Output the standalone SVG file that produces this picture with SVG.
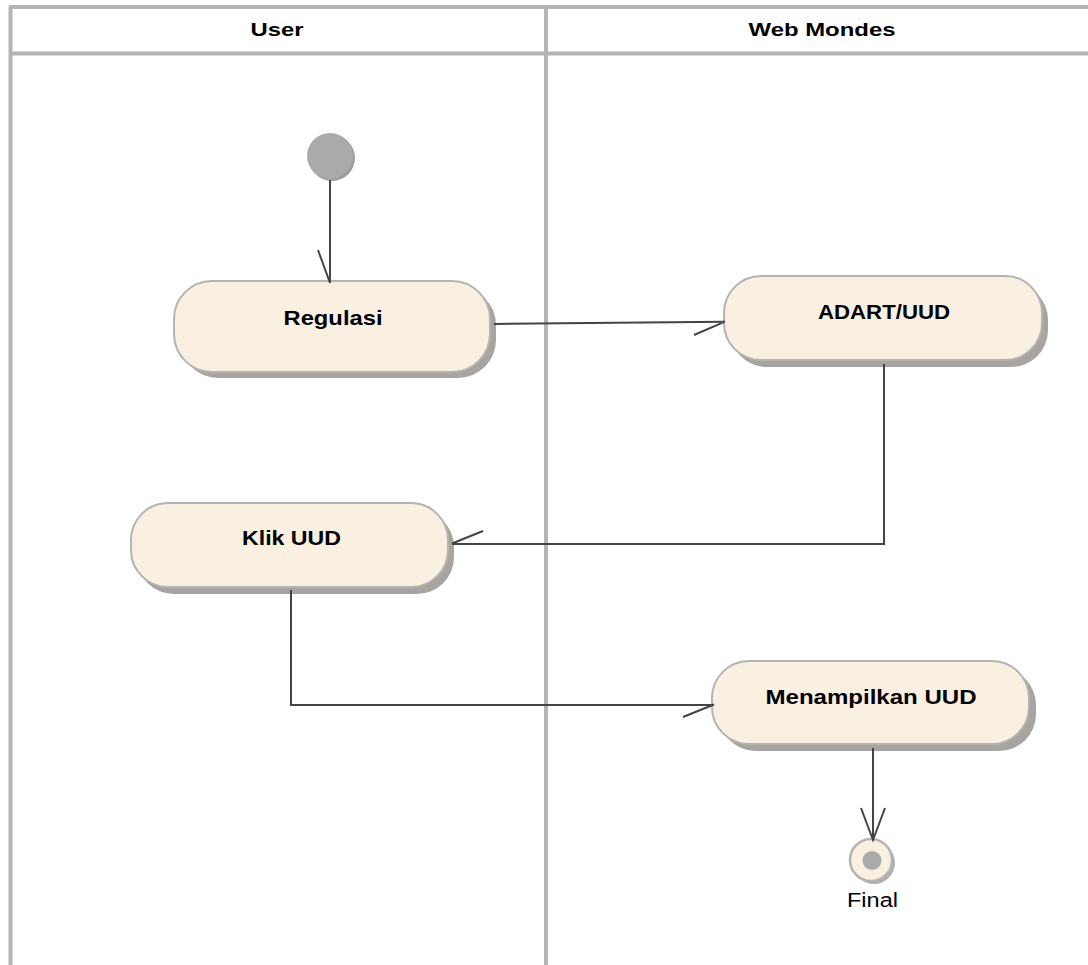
<svg xmlns="http://www.w3.org/2000/svg" width="1088" height="965" viewBox="0 0 1088 965">
<style>
.lane{stroke:#b4b4b4;stroke-width:4;fill:none}
.hdr{font-family:"Liberation Sans",Arial,sans-serif;font-weight:bold;font-size:18px;fill:#000;text-anchor:middle}
.lbl{font-family:"Liberation Sans",Arial,sans-serif;font-weight:bold;font-size:21px;fill:#000;text-anchor:middle}
.box{fill:#faf0e2;stroke:#b4b4b4;stroke-width:2}
.shd{fill:#a8a5a0}
.edge{stroke:#444;stroke-width:2;fill:none}
</style>
<rect width="1088" height="965" fill="#fff"/>
<g id="lanes">
<line class="lane" x1="9" y1="7" x2="1088" y2="7"/>
<line class="lane" x1="9" y1="53.5" x2="1088" y2="53.5"/>
<line class="lane" x1="10.5" y1="7" x2="10.5" y2="965"/>
<line class="lane" x1="546" y1="7" x2="546" y2="965"/>
<text class="hdr" x="277" y="36" textLength="53" lengthAdjust="spacingAndGlyphs">User</text>
<text class="hdr" x="822" y="36" textLength="147" lengthAdjust="spacingAndGlyphs">Web Mondes</text>
</g>
<g id="initial">
<circle cx="332" cy="158" r="23" fill="#a09c98"/>
<circle cx="330" cy="156" r="23" fill="#aaaaaa"/>
</g>
<g id="regulasi">
<rect class="shd" x="180" y="287" width="316" height="91" rx="38"/>
<rect class="box" x="174" y="281" width="316" height="91" rx="38"/>
<text class="lbl" x="333" y="324.5" textLength="99" lengthAdjust="spacingAndGlyphs">Regulasi</text>
</g>
<g id="adart">
<rect class="shd" x="730" y="283" width="318" height="84" rx="37"/>
<rect class="box" x="724" y="276" width="318" height="84" rx="37"/>
<text class="lbl" x="884" y="318.5" textLength="132" lengthAdjust="spacingAndGlyphs">ADART/UUD</text>
</g>
<g id="klik">
<rect class="shd" x="137" y="510" width="317" height="84" rx="37"/>
<rect class="box" x="131" y="503" width="317" height="84" rx="37"/>
<text class="lbl" x="291.5" y="544.5" textLength="99" lengthAdjust="spacingAndGlyphs">Klik UUD</text>
</g>
<g id="menampilkan">
<rect class="shd" x="719" y="668" width="317" height="83" rx="37"/>
<rect class="box" x="712" y="661" width="317" height="83" rx="37"/>
<text class="lbl" x="871" y="704" textLength="211" lengthAdjust="spacingAndGlyphs">Menampilkan UUD</text>
</g>
<g id="final">
<circle cx="874" cy="863" r="21" fill="#b0b0b0"/>
<circle cx="871" cy="860" r="21" fill="#faf0e2" stroke="#b4b4b4" stroke-width="2.5"/>
<circle cx="872" cy="860.5" r="9.5" fill="#aaaaaa"/>
<text x="872.5" y="907" font-family="'Liberation Sans',Arial,sans-serif" font-size="20" text-anchor="middle" textLength="51" lengthAdjust="spacingAndGlyphs">Final</text>
</g>
<g id="connectors">
<path class="edge" d="M330 180 V283 M318 250 L330 283"/>
<path class="edge" d="M494 324 L725 321.7 M694 335 L725 321.7"/>
<path class="edge" d="M884 364 V544 H452 M483 531 L452 543.5"/>
<path class="edge" d="M291 590 V705 H714 M683 717 L714 704.5"/>
<path class="edge" d="M873 748 V840 M861 808 L873 840 L885 808"/>
</g>
</svg>
